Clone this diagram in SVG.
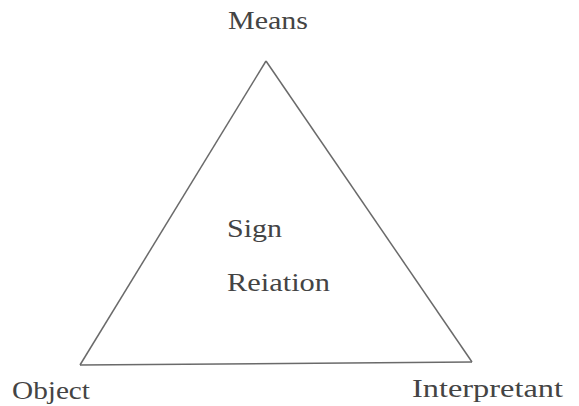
<svg xmlns="http://www.w3.org/2000/svg" width="579" height="406" viewBox="0 0 579 406">
<style>
text{font-family:"Liberation Serif","DejaVu Serif",serif;font-size:26px;fill:#444}
.edge{stroke:#6a6a6a;stroke-width:1.5;fill:none}
</style>
<rect width="579" height="406" fill="#fff"/>
<g id="connectors">
<line class="edge" x1="266" y1="61" x2="80" y2="365"/>
<line class="edge" x1="266" y1="61" x2="472" y2="362"/>
<line class="edge" x1="80" y1="365" x2="472" y2="362"/>
</g>
<g id="means"><text x="228" y="29" textLength="80" lengthAdjust="spacingAndGlyphs">Means</text></g>
<g id="sign"><text x="227" y="237" textLength="55" lengthAdjust="spacingAndGlyphs">Sign</text><text x="227" y="291" textLength="103" lengthAdjust="spacingAndGlyphs">Reiation</text></g>
<g id="object"><text x="12" y="399" font-size="25" textLength="78" lengthAdjust="spacingAndGlyphs">Object</text></g>
<g id="interpretant"><text x="412" y="397" textLength="151" lengthAdjust="spacingAndGlyphs">Interpretant</text></g>
</svg>
